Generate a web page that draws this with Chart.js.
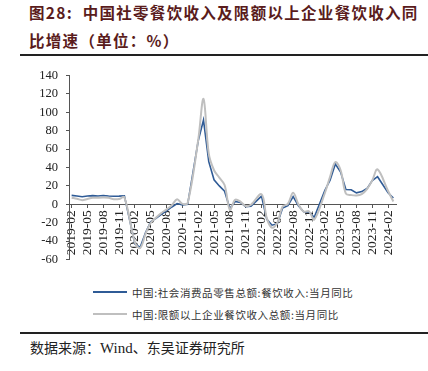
<!DOCTYPE html>
<html><head><meta charset="utf-8">
<script src="https://cdn.jsdelivr.net/npm/chart.js@4.4.1/dist/chart.umd.min.js"></script>
<style>
html,body{margin:0;padding:0;background:#fff;}
body{width:428px;height:371px;position:relative;overflow:hidden;font-family:"Noto Sans CJK SC",sans-serif;}
.t{position:absolute;left:29px;color:#5a1c1c;font-weight:700;font-size:15.5px;letter-spacing:1.3px;white-space:nowrap;line-height:18px;}
.rule{position:absolute;left:20px;right:0;height:2px;background:#222;}
#wrap{position:absolute;left:0;top:60px;width:428px;height:215px;}
#legend{position:absolute;left:93px;top:281px;font-size:10.5px;color:#333;letter-spacing:0.6px;}
.li{display:flex;align-items:center;height:22px;}
.sw{width:34px;height:2px;margin-right:5px;}
.src{position:absolute;left:30px;top:337px;font-size:14px;color:#222;white-space:nowrap;}
.src .w{font-family:"Liberation Serif",serif;font-size:15px;}
</style></head>
<body>
<div class="t" style="top:3px">图28:&nbsp; 中国社零餐饮收入及限额以上企业餐饮收入同</div>
<div class="t" style="top:31px">比增速（单位：%）</div>
<div class="rule" style="top:54px"></div>
<div id="wrap"><canvas id="c" width="428" height="215"></canvas></div>
<div id="legend"></div>
<div class="rule" style="top:332px"></div>
<div class="src">数据来源：<span class="w">Wind</span>、东吴证券研究所</div>
<script>
const months = [
 "2019-02","2019-03","2019-04","2019-05","2019-06","2019-07","2019-08","2019-09","2019-10","2019-11","2019-12",
 "2020-01","2020-02","2020-03","2020-04","2020-05","2020-06","2020-07","2020-08","2020-09","2020-10","2020-11","2020-12",
 "2021-01","2021-02","2021-03","2021-04","2021-05","2021-06","2021-07","2021-08","2021-09","2021-10","2021-11","2021-12",
 "2022-01","2022-02","2022-03","2022-04","2022-05","2022-06","2022-07","2022-08","2022-09","2022-10","2022-11","2022-12",
 "2023-01","2023-02","2023-03","2023-04","2023-05","2023-06","2023-07","2023-08","2023-09","2023-10","2023-11","2023-12",
 "2024-01","2024-02","2024-03"
];
const seriesNames = ["中国:社会消费品零售总额:餐饮收入:当月同比","中国:限额以上企业餐饮收入总额:当月同比"];
const retailCatering = [
 9.7, 9.0, 8.2, 9.0, 9.4, 9.1, 9.6, 9.1, 8.8, 8.9, 9.3,
 null, -43.1, -46.8, -31.1, -18.9, -15.2, -11.0, -7.0, -2.9, 0.8, -0.6, 0.0,
 null, 68.9, 91.6, 46.4, 26.6, 20.0, 14.3, -4.5, 3.1, 2.0, -2.7, -2.0,
 null, 8.9, -16.4, -22.7, -21.1, -4.0, -1.5, 8.4, -1.7, -8.1, -8.4, -14.1,
 null, 15.0, 26.3, 43.8, 35.1, 16.1, 15.8, 12.4, 13.8, 17.1, 25.8, 30.0,
 null, 12.5, 6.9
];
const aboveQuotaCatering = [
 7.2, 6.0, 4.5, 5.8, 7.0, 7.2, 7.3, 7.0, 5.6, 5.8, 7.6,
 null, -41.6, -47.5, -32.5, -20.0, -14.5, -9.5, -5.5, -1.0, 5.5, 0.5, 1.5,
 null, 70.0, 114.5, 55.0, 37.0, 29.0, 21.0, -6.0, 5.0, 3.0, -2.0, -0.5,
 null, 11.0, -15.0, -25.5, -20.0, -2.5, 0.5, 12.5, 0.0, -8.0, -7.5, -16.5,
 null, 12.0, 30.0, 46.0, 37.0, 11.5, 10.0, 9.5, 11.0, 16.5, 26.0, 38.0,
 null, 14.5, 3.0
];
const yTicks = {min: -60, max: 140, step: 20};
const colors = ["#2f5b96", "#bfbfbf"];

const axisColor = "#555";
const yFont = {family: "Liberation Serif", size: 12.5};
const xFont = {family: "Liberation Serif", size: 13.5};
const chart = new Chart(document.getElementById("c"), {
  type: "line",
  data: {
    labels: months,
    datasets: [
      {label: seriesNames[0], data: retailCatering, borderColor: colors[0], borderWidth: 1.6, tension: 0, pointRadius: 0, spanGaps: true, order: 1},
      {label: seriesNames[1], data: aboveQuotaCatering, borderColor: colors[1], borderWidth: 2, tension: 0.35, pointRadius: 0, spanGaps: true, order: 0}
    ]
  },
  options: {
    responsive: false,
    animation: false,
    layout: {padding: {left: 0, right: 32, top: 15, bottom: 10}},
    plugins: {legend: {display: false}, tooltip: {enabled: false}},
    scales: {
      x: {
        position: {y: 0},
        offset: true,
        grid: {display: true, drawOnChartArea: false, drawTicks: true, tickLength: 3, color: axisColor, offset: false},
        border: {display: true, color: axisColor, width: 1},
        afterBuildTicks: s => { s.ticks = s.ticks.filter(t => t.value % 3 === 0); },
        ticks: {autoSkip: false, maxRotation: 90, minRotation: 90, padding: 3, color: "#222", font: xFont,
          callback: function(v){ return this.getLabelForValue(v); }}
      },
      y: {
        min: yTicks.min, max: yTicks.max,
        afterFit: s => { s.width = 69; },
        grid: {display: true, drawOnChartArea: false, drawTicks: true, tickLength: 3, color: axisColor},
        border: {display: true, color: axisColor, width: 1},
        ticks: {stepSize: yTicks.step, padding: 8, color: "#222", font: yFont}
      }
    }
  }
});

const lg = document.getElementById("legend");
chart.data.datasets.forEach(ds => {
  const row = document.createElement("div"); row.className = "li";
  const sw = document.createElement("span"); sw.className = "sw"; sw.style.background = ds.borderColor;
  const tx = document.createElement("span"); tx.textContent = ds.label;
  row.appendChild(sw); row.appendChild(tx); lg.appendChild(row);
});
</script>
</body></html>
